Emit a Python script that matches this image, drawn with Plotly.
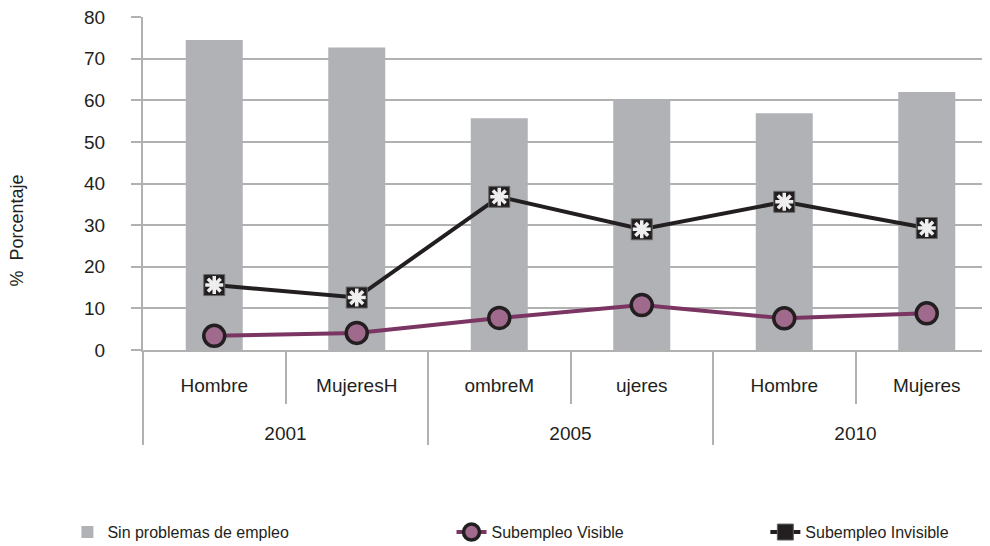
import plotly.graph_objects as go

years = ["2001", "2001", "2005", "2005", "2010", "2010"]
sexo = ["Hombre", "MujeresH", "ombreM", "ujeres", "Hombre", "Mujeres"]
sin_problemas = [74.5, 72.7, 55.7, 60.3, 56.9, 62.0]
sub_visible = [3.4, 4.1, 7.7, 10.8, 7.6, 8.8]
sub_invisible = [15.6, 12.6, 36.8, 29.0, 35.6, 29.3]

# blank lines push the two label rows apart like in the original
big = "<span style='font-size:19px'>%s</span>"
pad = "<br> <br><span style='font-size:36px'> </span>"
x = [[big % y for y in years], ["<br>" + big % s + pad for s in sexo]]
txt = "#231f20"
grid = "#b1b1b1"
fnt = "Liberation Sans, Arial"

fig = go.Figure()
fig.add_trace(go.Bar(x=x, y=sin_problemas, name="Sin problemas de empleo",
                     marker=dict(color="#b1b2b6", line_width=0), legend="legend"))
fig.add_trace(go.Scatter(x=x, y=sub_visible, name="Subempleo Visible", mode="lines+markers",
                         line=dict(color="#7b3562", width=4), legend="legend2",
                         marker=dict(symbol="circle", size=21, color="#a06a8c",
                                     line=dict(color="#231f20", width=3.5))))
fig.add_trace(go.Scatter(x=x, y=sub_invisible, name="Subempleo Invisible", mode="lines+markers",
                         line=dict(color="#231f20", width=4), legend="legend3",
                         marker=dict(symbol="square", size=21, color="#231f20",
                                     line=dict(color="#666", width=1))))
# white star inside the square markers
fig.add_trace(go.Scatter(x=x, y=sub_invisible, mode="markers", showlegend=False, hoverinfo="skip",
                         marker=dict(symbol="asterisk-open", size=15, color="#eeeeee",
                                     line=dict(color="#eeeeee", width=3.5))))

# the page body adds 8px on the left and top, margins allow for it
leg = dict(orientation="h", xanchor="left", yanchor="middle", y=0.04,
           xref="container", yref="container",
           font=dict(size=16, family=fnt, color=txt), bgcolor="rgba(0,0,0,0)")
fig.update_layout(
    width=990, height=546,
    margin=dict(l=135, r=0, t=9, b=204),
    plot_bgcolor="white", paper_bgcolor="white",
    font=dict(family=fnt, size=16, color=txt),
    bargap=0.6,
    showlegend=True,
    legend=dict(leg, x=0.06),
    legend2=dict(leg, x=0.448),
    legend3=dict(leg, x=0.765),
    annotations=[dict(text="%  Porcentaje", textangle=-90, xref="paper", yref="paper",
                      x=-0.147, y=0.36, xanchor="center", yanchor="middle",
                      showarrow=False, font=dict(size=18, color=txt))],
)
fig.update_xaxes(type="multicategory", showline=True, linecolor=grid, linewidth=2,
                 showgrid=False, ticks="outside", tickson="boundaries", ticklen=52,
                 tickcolor=grid, tickwidth=1.5, showdividers=True, dividercolor=grid,
                 dividerwidth=1.5, tickfont=dict(size=16, color=txt), automargin=False)
fig.update_yaxes(range=[0, 80], dtick=10, showgrid=True, gridcolor=grid, gridwidth=1.5,
                 showline=True, linecolor=grid, linewidth=2, ticks="outside", ticklen=10,
                 tickcolor=grid, tickwidth=1.5, zeroline=False, ticklabelstandoff=22,
                 ticklabeloverflow="allow",
                 tickfont=dict(size=19, color=txt), automargin=False)

fig.write_html("out.html")
